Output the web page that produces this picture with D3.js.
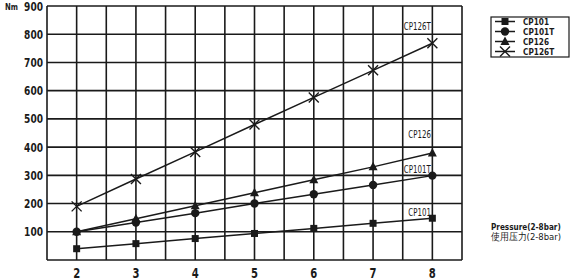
<!DOCTYPE html>
<html>
<head>
<meta charset="utf-8">
<script src="https://cdn.jsdelivr.net/npm/d3@7"></script>
<style>
  body { margin: 0; background: #fff; }
  svg text { font-family: "DejaVu Sans", sans-serif; }
</style>
</head>
<body>
<div id="chart"></div>
<script>
const pressures = [2, 3, 4, 5, 6, 7, 8];
const cp101 = [40, 58, 76, 94, 112, 130, 148];
const cp101t = [100, 133, 166, 200, 233, 266, 299];
const cp126 = [100, 146, 192, 238, 284, 330, 379];
const cp126t = [190, 287, 383, 480, 576, 672, 768];
const yTicks = [100, 200, 300, 400, 500, 600, 700, 800, 900];
const seriesNames = ['CP101', 'CP101T', 'CP126', 'CP126T'];
// torque level at which each series name is written
const labelAt = [171, 321, 448, 828];

const series = [
    { name: 'CP101', values: cp101, marker: 'square' },
    { name: 'CP101T', values: cp101t, marker: 'circle' },
    { name: 'CP126', values: cp126, marker: 'triangle' },
    { name: 'CP126T', values: cp126t, marker: 'cross' }
];

const width = 572, height = 280;
const svg = d3.select('#chart').append('svg')
    .attr('width', width)
    .attr('height', height);

const x = d3.scaleLinear().domain([1.5, 8.5]).range([47, 462]);
const y = d3.scaleLinear().domain([0, 900]).range([260, 6]);

const ink = '#1a1a1a';

// squeeze text horizontally to look like the narrow original font
function narrow(sel, perChar) {
    sel.each(function () {
        const t = d3.select(this);
        const n = String(t.text()).length;
        t.attr('textLength', n * perChar).attr('lengthAdjust', 'spacingAndGlyphs');
    });
    return sel;
}

// grid
const grid = svg.append('g');
d3.range(1.5, 8.51, 0.5).forEach(v => {
    grid.append('line')
        .attr('x1', x(v)).attr('x2', x(v))
        .attr('y1', y(0)).attr('y2', y(900))
        .attr('stroke', ink).attr('stroke-width', 1.6);
});
[0].concat(yTicks).forEach(v => {
    grid.append('line')
        .attr('x1', x(1.5)).attr('x2', x(8.5))
        .attr('y1', y(v)).attr('y2', y(v))
        .attr('stroke', ink).attr('stroke-width', 1.6);
});

// y labels
narrow(svg.append('g').selectAll('text')
    .data(yTicks).join('text')
    .attr('x', 43).attr('y', d => y(d) + 4.5)
    .attr('text-anchor', 'end')
    .attr('font-size', 12.5).attr('font-weight', 'bold')
    .attr('fill', ink)
    .text(d => d), 6.3);

narrow(svg.append('text')
    .attr('x', 5).attr('y', 10)
    .attr('font-size', 9.5).attr('font-weight', 'bold')
    .attr('fill', ink)
    .text('Nm'), 6.5);

// x labels
narrow(svg.append('g').selectAll('text')
    .data(pressures).join('text')
    .attr('x', d => x(d)).attr('y', 277.5)
    .attr('text-anchor', 'middle')
    .attr('font-size', 13.5).attr('font-weight', 'bold')
    .attr('fill', ink)
    .text(d => d), 7);

function drawMarker(g, type, cx, cy) {
    if (type === 'square') {
        g.append('rect').attr('x', cx - 3.5).attr('y', cy - 3.5)
            .attr('width', 7).attr('height', 7).attr('fill', ink);
    } else if (type === 'circle') {
        g.append('circle').attr('cx', cx).attr('cy', cy).attr('r', 4.2).attr('fill', ink);
    } else if (type === 'triangle') {
        g.append('path')
            .attr('d', `M${cx},${cy - 5}L${cx + 4.5},${cy + 3.5}L${cx - 4.5},${cy + 3.5}Z`)
            .attr('fill', ink);
    } else {
        g.append('path')
            .attr('d', `M${cx - 5},${cy - 5}L${cx + 5},${cy + 5}M${cx - 5},${cy + 5}L${cx + 5},${cy - 5}`)
            .attr('stroke', ink).attr('stroke-width', 1.4).attr('fill', 'none');
    }
}

const line = d3.line()
    .x((d, i) => x(pressures[i]))
    .y(d => y(d));

series.forEach(s => {
    svg.append('path')
        .datum(s.values)
        .attr('fill', 'none')
        .attr('stroke', ink)
        .attr('stroke-width', 1.5)
        .attr('d', line);
    const g = svg.append('g');
    s.values.forEach((v, i) => drawMarker(g, s.marker, x(pressures[i]), y(v)));
});

// series labels near the last points
series.forEach((s, i) => {
    narrow(svg.append('text')
        .attr('x', x(8) - 1.5).attr('y', y(labelAt[i]) + 4)
        .attr('text-anchor', 'end')
        .attr('font-size', 11)
        .attr('fill', ink)
        .text(s.name), 4.5);
});

// legend
const legend = svg.append('g');
legend.append('rect')
    .attr('x', 491).attr('y', 17)
    .attr('width', 78).attr('height', 40)
    .attr('fill', '#fff').attr('stroke', ink).attr('stroke-width', 1.2);
series.forEach((s, i) => {
    const ly = 21.5 + i * 10;
    legend.append('line')
        .attr('x1', 495).attr('x2', 515)
        .attr('y1', ly).attr('y2', ly)
        .attr('stroke', ink).attr('stroke-width', 1.5);
    const g = legend.append('g');
    drawMarker(g, s.marker, 505, ly);
    narrow(legend.append('text')
        .attr('x', 523).attr('y', ly + 3.5)
        .attr('font-size', 9.5).attr('font-weight', 'bold')
        .attr('fill', ink)
        .text(seriesNames[i]), 5.2);
});

// axis caption, squeezed with a transform
svg.append('g')
    .attr('transform', 'translate(491,229.5) scale(0.81,1)')
    .append('text')
    .attr('font-size', 9).attr('font-weight', 'bold')
    .attr('fill', ink)
    .text('Pressure(2-8bar)');
svg.append('text')
    .attr('x', 491).attr('y', 240)
    .attr('font-size', 9.5)
    .attr('fill', ink)
    .attr('font-family', '"Noto Sans CJK SC", sans-serif')
    .attr('textLength', 70).attr('lengthAdjust', 'spacingAndGlyphs')
    .text('使用压力(2-8bar)');
</script>
</body>
</html>
